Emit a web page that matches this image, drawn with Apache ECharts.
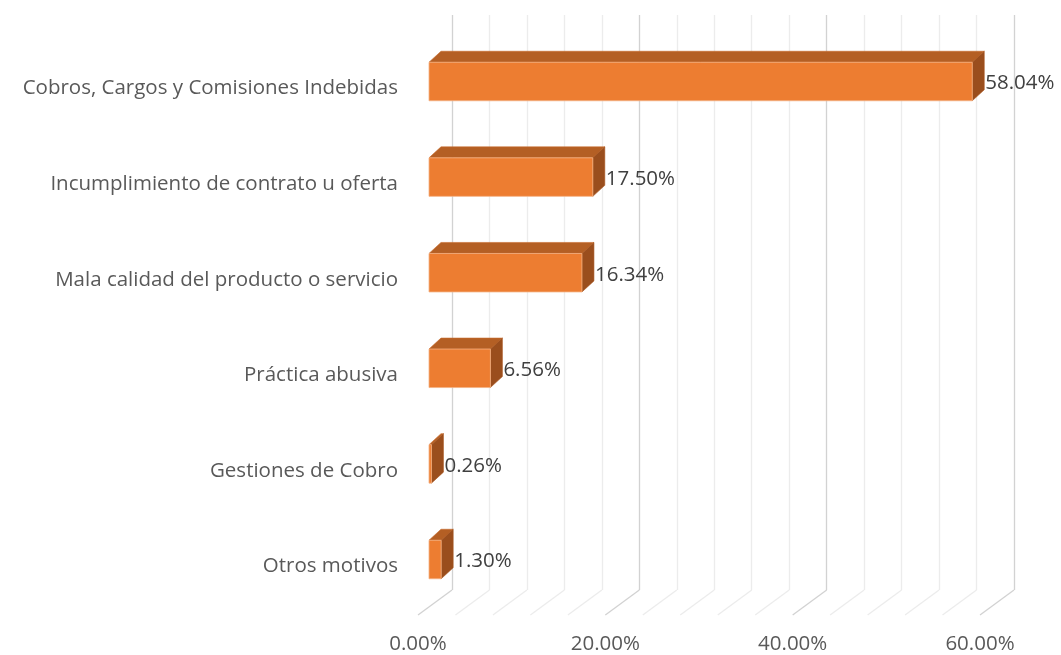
<!DOCTYPE html>
<html>
<head>
<meta charset="utf-8">
<script src="https://cdn.jsdelivr.net/npm/echarts@6/dist/echarts.min.js"></script>
<style>html,body{margin:0;padding:0;background:#fff;}#c{width:1061px;height:655px;}</style>
</head>
<body>
<div id="c"></div>
<script>
const categories = ['Cobros, Cargos y Comisiones Indebidas', 'Incumplimiento de contrato u oferta', 'Mala calidad del producto o servicio', 'Práctica abusiva', 'Gestiones de Cobro', 'Otros motivos'];
const values = [58.04, 17.50, 16.34, 6.56, 0.26, 1.30];
const gridTicks = [0, 4, 8, 12, 16, 20, 24, 28, 32, 36, 40, 44, 48, 52, 56, 60];
const labelTicks = [0, 20, 40, 60];

const FONT = 'Open Sans';
const FS = 20.5;
const chart = echarts.init(document.getElementById('c'), null, {renderer: 'canvas'});
const gridColors = ['#d2d2d2', '#ececec', '#ececec', '#ececec', '#ececec'];

const option = {
  backgroundColor: '#ffffff',
  animation: false,
  grid: [
    {left: 429, right: 70.4, top: 33.7, bottom: 47.7},
    {left: 452, right: 47, top: 15, bottom: 65},
    {left: 418, right: 81, top: 15, bottom: 40},
    {left: 429, right: 70.4, top: 40.7, bottom: 40.7}
  ],
  xAxis: [
    {gridIndex: 0, type: 'value', min: 0, max: 60, show: false},
    {gridIndex: 1, type: 'value', min: 0, max: 60, interval: 4,
      axisLine: {show: false}, axisTick: {show: false}, axisLabel: {show: false},
      splitLine: {show: true, lineStyle: {color: gridColors, width: 1.3}}},
    {gridIndex: 2, type: 'value', min: 0, max: 60, interval: 20,
      axisLine: {show: false}, axisTick: {show: false}, splitLine: {show: false},
      axisLabel: {margin: 20, fontSize: FS, fontFamily: FONT, color: '#595959',
        formatter: v => labelTicks.indexOf(v) >= 0 ? v.toFixed(2) + '%' : ''}},
    {gridIndex: 3, type: 'value', min: 0, max: 60, show: false}
  ],
  yAxis: [
    {gridIndex: 0, type: 'category', data: categories, inverse: true, show: false},
    {gridIndex: 1, type: 'value', min: 0, max: 1, show: false},
    {gridIndex: 2, type: 'value', min: 0, max: 1, show: false},
    {gridIndex: 3, type: 'category', data: categories, inverse: true,
      axisLine: {show: false}, axisTick: {show: false}, splitLine: {show: false},
      axisLabel: {margin: 31, fontSize: FS, fontFamily: FONT, color: '#595959'}}
  ],
  series: [
    {
      type: 'custom', xAxisIndex: 1, yAxisIndex: 1, z: 1,
      data: gridTicks.map(v => [v]),
      renderItem: function (params, api) {
        const v = api.value(0);
        const p = api.coord([v, 0]);
        const major = v % 20 === 0;
        return {type: 'line', shape: {x1: p[0], y1: p[1], x2: p[0] - 34, y2: p[1] + 25},
          style: {stroke: major ? '#d2d2d2' : '#ececec', lineWidth: 1.3}};
      }
    },
    {
      type: 'custom', xAxisIndex: 0, yAxisIndex: 0, z: 5,
      data: values.map((v, i) => [v, i]),
      renderItem: function (params, api) {
        const v = api.value(0);
        const c = api.value(1);
        const p0 = api.coord([0, c]);
        const p1 = api.coord([v, c]);
        const h = 38.5, dx = 12, dy = -11;
        const top = p0[1] - h / 2, bottom = p0[1] + h / 2;
        const x0 = p0[0], x1 = p1[0];
        return {
          type: 'group',
          children: [
            {type: 'polygon', shape: {points: [[x0, top], [x0 + dx, top + dy], [x1 + dx, top + dy], [x1, top]]},
              style: {fill: '#b45f24', stroke: '#c86a2a', lineWidth: 0.6}},
            {type: 'polygon', shape: {points: [[x1, top], [x1 + dx, top + dy], [x1 + dx, bottom + dy], [x1, bottom]]},
              style: {fill: '#9a4e1d', stroke: '#a9561f', lineWidth: 0.6}},
            {type: 'rect', shape: {x: x0, y: top, width: Math.max(x1 - x0, 0.5), height: h},
              style: {fill: '#ed7d31', stroke: '#f4b183', lineWidth: 0.8}},
            {type: 'text', x: x1 + dx + 1, y: p0[1] + 2,
              style: {text: v.toFixed(2) + '%', fill: '#404040', fontSize: FS, fontFamily: FONT,
                verticalAlign: 'middle', align: 'left'}}
          ]
        };
      }
    }
  ]
};
chart.setOption(option);
</script>
</body>
</html>
